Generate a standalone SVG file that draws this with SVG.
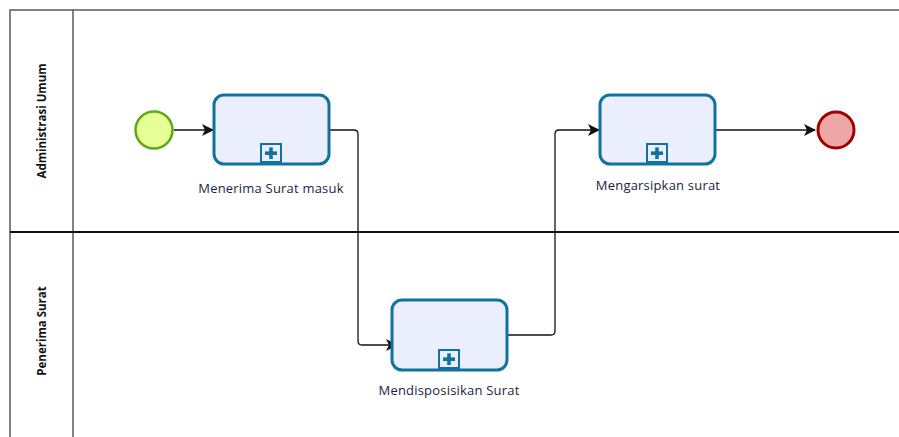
<svg xmlns="http://www.w3.org/2000/svg" width="899" height="437" viewBox="0 0 899 437">
  <style>
    .pool { fill: none; stroke: #5a5a5a; stroke-width: 1.5; }
    .lanesep { stroke: #111; stroke-width: 2.2; }
    .lanelabel { font-family: "Open Sans", "Liberation Sans", sans-serif; font-weight: bold; font-size: 11.5px; fill: #111; text-anchor: middle; }
    .task { fill: #eaeefd; stroke: #10739e; stroke-width: 3; }
    .marker-box { fill: #eaeefd; stroke: #10739e; stroke-width: 2; }
    .marker-plus { fill: #10739e; }
    .label { font-family: "Open Sans", "Noto Sans", sans-serif; font-size: 13px; letter-spacing: 0.2px; fill: #1e1e3c; text-anchor: middle; }
    .flow { fill: none; stroke: #111; stroke-width: 1.3; }
  </style>
  <defs>
    <marker id="arrow" viewBox="0 0 12 12" refX="11" refY="6" markerWidth="12" markerHeight="12" markerUnits="userSpaceOnUse" orient="auto">
      <path d="M0,0 L12,6 L0,12 L3,6 Z" fill="#111"/>
    </marker>
    <g id="subprocess-marker">
      <rect class="marker-box" x="-10" y="-9" width="20" height="18"/>
      <rect class="marker-plus" x="-6" y="-1.6" width="12" height="3.6"/>
      <rect class="marker-plus" x="-1.8" y="-5.6" width="3.6" height="11.6"/>
    </g>
  </defs>

  <rect width="899" height="437" fill="#ffffff"/>

  <!-- Pool with two lanes -->
  <g id="pool">
    <path class="pool" d="M899,10 H10 V437"/>
    <line class="pool" x1="73" y1="10" x2="73" y2="437"/>
    <line class="lanesep" x1="10" y1="232" x2="899" y2="232"/>
  </g>
  <g id="lane-administrasi">
    <text class="lanelabel" transform="translate(46,121) rotate(-90)">Administrasi Umum</text>
  </g>
  <g id="lane-penerima">
    <text class="lanelabel" transform="translate(46,331) rotate(-90)">Penerima Surat</text>
  </g>

  <!-- Sequence flows -->
  <g id="connectors">
    <line class="flow" x1="174" y1="130" x2="213" y2="130" marker-end="url(#arrow)"/>
    <path class="flow" d="M329,130 H354 Q358,130 358,134 V341 Q358,345 362,345 H397" marker-end="url(#arrow)"/>
    <path class="flow" d="M507,335 H551 Q555,335 555,331 V134 Q555,130 559,130 H599" marker-end="url(#arrow)"/>
    <line class="flow" x1="716" y1="130" x2="815" y2="130" marker-end="url(#arrow)"/>
  </g>

  <!-- Start event -->
  <g id="start">
    <circle cx="154" cy="130" r="18.5" fill="#e6ff97" stroke="#62a716" stroke-width="2.5"/>
  </g>

  <!-- Tasks -->
  <g id="task-menerima">
    <rect class="task" x="214" y="95" width="115" height="69" rx="10"/>
    <use href="#subprocess-marker" x="271" y="153"/>
    <text class="label" x="271" y="193">Menerima Surat masuk</text>
  </g>
  <g id="task-mendisposisikan">
    <rect class="task" x="392" y="300" width="115" height="70" rx="10"/>
    <use href="#subprocess-marker" x="449" y="359"/>
    <text class="label" x="449" y="395">Mendisposisikan Surat</text>
  </g>
  <g id="task-mengarsipkan">
    <rect class="task" x="600" y="95" width="115" height="69" rx="10"/>
    <use href="#subprocess-marker" x="657" y="153"/>
    <text class="label" x="658" y="190">Mengarsipkan surat</text>
  </g>

  <!-- End event -->
  <g id="end">
    <circle cx="836" cy="130" r="18" fill="#eea7a7" stroke="#a20000" stroke-width="3"/>
  </g>
</svg>
